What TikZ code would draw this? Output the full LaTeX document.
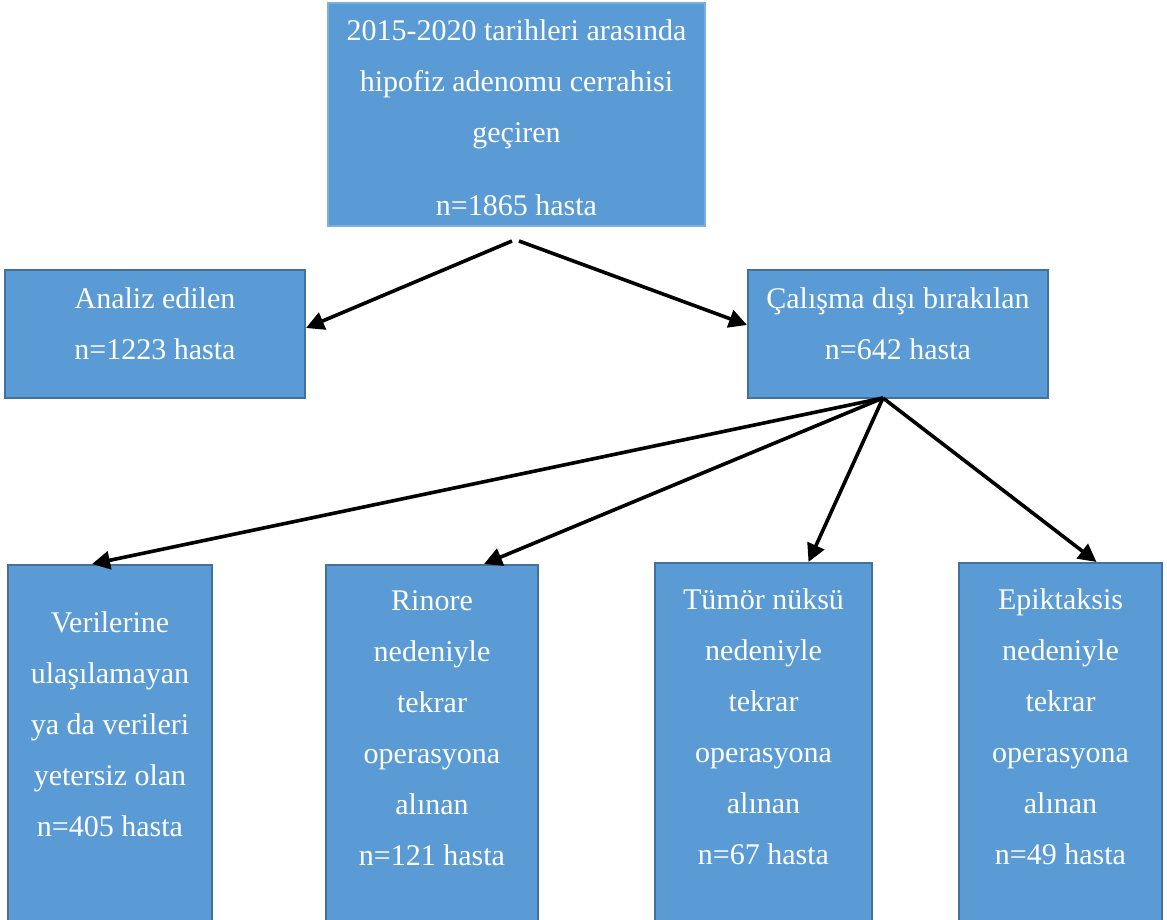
\documentclass[tikz,border=0pt]{standalone}
\usepackage{fontspec}
\setmainfont{Liberation Serif}
\usetikzlibrary{arrows.meta,calc}

\definecolor{boxblue}{HTML}{5B9BD5}
\definecolor{boxline}{HTML}{41719C}

\tikzset{
  box/.style={draw=boxline, line width=1pt, fill=boxblue, inner sep=0pt},
  txt/.style={text=white, align=center, font=\fontsize{15}{25.5}\selectfont},
  link/.style={line width=1.8pt, -{Triangle[length=9pt,width=9pt]}}
}

\begin{document}
\begin{tikzpicture}[x=0.5pt, y=-0.5pt]
  \useasboundingbox (0,0) rectangle (1167,920);

  % boxes
  \node[box, draw=boxblue!80!white, minimum width=188.5pt, minimum height=111.5pt] (top) at (516.5,114.5) {};
  \node[box, minimum width=150pt, minimum height=64pt] (analiz) at (155,334) {};
  \node[box, minimum width=150pt, minimum height=64pt] (calisma) at (898,334) {};

  \node[box, minimum width=102pt, minimum height=178pt] (veri) at (110,743) {};
  \node[box, minimum width=106pt, minimum height=178pt] (rinore) at (432,743) {};
  \node[box, minimum width=108.5pt, minimum height=179pt] (tumor) at (763.5,742) {};
  \node[box, minimum width=101.5pt, minimum height=179pt] (epik) at (1060.5,742) {};

  % texts
  \node[txt] (topT) at (516.5,118) {2015-2020 tarihleri arasında\\hipofiz adenomu cerrahisi\\geçiren\\[11pt]n=1865 hasta};
  \node[txt] (analizT) at (155,324) {Analiz edilen\\n=1223 hasta};
  \node[txt] (calismaT) at (898,324) {Çalışma dışı bırakılan\\n=642 hasta};

  \node[txt] (veriT) at (110,724) {Verilerine\\ulaşılamayan\\ya da verileri\\yetersiz olan\\n=405 hasta};
  \node[txt] (rinoreT) at (432,728) {Rinore\\nedeniyle\\tekrar\\operasyona\\alınan\\n=121 hasta};
  \node[txt] (tumorT) at (763.5,727) {Tümör nüksü\\nedeniyle\\tekrar\\operasyona\\alınan\\n=67 hasta};
  \node[txt] (epikT) at (1060.5,727) {Epiktaksis\\nedeniyle\\tekrar\\operasyona\\alınan\\n=49 hasta};

  % arrows
  \coordinate (splitL) at (512,241);
  \coordinate (splitR) at (519,241);
  \coordinate (fork) at (883,398);

  \draw[link] (splitL) -- ($(analiz.east)+(0,-6)$);
  \draw[link] (splitR) -- ($(calisma.west)+(0,-9)$);

  \draw[link] (fork) -- ($(veri.north)+(-18,0)$);
  \draw[link] (fork) -- ($(rinore.north)+(52,0)$);
  \draw[link] (fork) -- ($(tumor.north)+(45,0)$);
  \draw[link] (fork) -- ($(epik.north)+(36,0)$);
\end{tikzpicture}
\end{document}
